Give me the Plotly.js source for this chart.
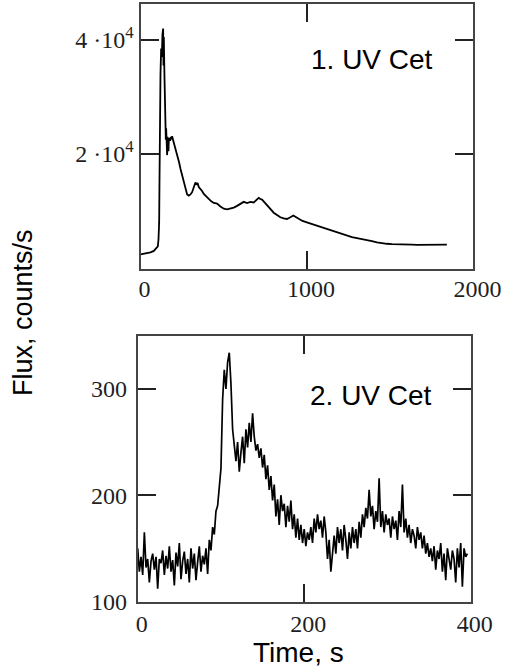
<!DOCTYPE html>
<html>
<head>
<meta charset="utf-8">
<script src="https://cdn.plot.ly/plotly-3.0.1.min.js"></script>
<style>html,body{margin:0;padding:0;background:#fff;}#chart{width:505px;height:672px;}</style>
</head>
<body>
<div id="chart"></div>
<script>
// Panel 1: UV Cet flare (time, s ; flux, counts/s)
const time1 = [0,20,40,60,80,90,100,104,108,112,114,116,118,120,124,128,132,136,138,140,142,144,146,148,150,152,154,156,158,160,162,164,166,168,170,174,178,182,186,190,196,202,210,218,224,232,240,250,260,270,280,290,300,310,320,330,336,343,350,360,370,380,395,410,425,440,460,480,500,520,540,560,580,600,620,640,660,680,695,710,720,730,745,760,780,800,820,840,860,880,900,918,935,950,970,990,1010,1030,1060,1090,1120,1150,1180,1210,1240,1270,1300,1330,1360,1390,1420,1450,1480,1510,1540,1570,1600,1630,1660,1690,1720,1750,1780,1810,1840,1866];
const flux1 = [2400,2500,2600,2750,3000,3300,3600,3800,5000,8000,15000,26000,33000,34000,38500,37000,41000,42000,35500,40500,37000,33500,30000,26000,25500,22500,24500,20000,23500,19800,23000,21000,22800,20500,22500,22800,22300,23000,22600,23100,22400,21800,21000,20000,19200,18500,17400,16200,14800,13600,12900,12700,12900,13300,14200,15000,14600,14900,14200,13900,13500,13000,12500,12100,11700,11400,11300,10800,10400,10300,10400,10600,10900,11200,11600,11400,11600,11500,11900,12300,12100,12000,11500,11000,10200,9700,9300,8900,8700,8600,8900,9200,8900,8600,8300,8100,7900,7800,7500,7200,6800,6500,6200,5900,5600,5400,5250,5100,4900,4700,4500,4350,4250,4200,4200,4150,4100,4100,4050,4050,4000,4000,4050,4050,4100];

// Panel 2: UV Cet flare (time, s ; flux, counts/s)
const time2 = [0,2,4,6,8,10,12,14,16,18,20,22,24,26,28,30,32,34,36,38,40,42,44,46,48,50,52,54,56,58,60,62,64,66,68,70,72,74,76,78,80,82,84,86,88,90,92,94,96,98,100,102,104,106,108,110,112,114,116,118,120,122,124,126,128,130,132,134,136,138,140,142,144,146,148,150,152,154,156,158,160,162,164,166,168,170,172,174,176,178,180,182,184,186,188,190,192,194,196,198,200,202,204,206,208,210,212,214,216,218,220,222,224,226,228,230,232,234,236,238,240,242,244,246,248,250,252,254,256,258,260,262,264,266,268,270,272,274,276,278,280,282,284,286,288,290,292,294,296,298,300,302,304,306,308,310,312,314,316,318,320,322,324,326,328,330,332,334,336,338,340,342,344,346,348,350,352,354,356,358,360,362,364,366,368,370,372,374,376,378,380,382,384,386,388,390,392,394,396];
const flux2 = [150,128,142,125,165,132,140,118,138,145,
130,142,112,140,136,148,125,143,131,152,
128,139,115,146,133,155,121,138,147,126,
140,118,150,131,145,120,137,152,128,143,
135,150,126,158,148,170,163,185,190,210,
225,290,318,300,325,334,305,262,245,232,
250,222,240,255,230,262,245,268,250,277,
255,242,248,235,244,226,238,215,228,205,
218,195,210,180,196,172,200,185,192,170,
190,175,195,168,182,160,178,158,172,155,
168,152,165,158,170,155,178,165,182,168,
176,160,180,165,140,158,128,150,162,145,
170,155,168,148,172,158,140,165,150,170,
155,168,150,175,160,182,170,188,178,205,
180,190,168,185,175,216,170,185,165,182,
172,178,160,180,168,176,158,185,170,210,
165,178,160,172,155,168,162,150,170,158,
165,150,162,145,155,142,150,138,152,130,
148,140,155,128,145,120,150,140,130,148,
140,118,150,132,155,114,150,142,145];

const yTickVals1 = [20000, 40000];
const yTickText1 = ['2 ·10<sup>4</sup>', '4 ·10<sup>4</sup>'];
const xTickVals1 = [0, 1000, 2000];
const xTickVals2 = [0, 200, 400];
const yTickVals2 = [100, 200, 300];

const tickFont = {family: 'Liberation Serif, Times New Roman, serif', size: 24, color: '#1f1f1f'};
const sansFont = {family: 'Liberation Sans, Arial, sans-serif', color: '#000'};

const axBase = {
  showline: true, mirror: 'ticks', linecolor: '#444', linewidth: 2,
  ticks: 'inside', ticklen: 18, tickwidth: 2, tickcolor: '#222',
  showgrid: false, zeroline: false, tickfont: tickFont, fixedrange: true
};

const traces = [
  {x: time1, y: flux1, xaxis: 'x', yaxis: 'y', type: 'scatter', mode: 'lines',
   line: {color: '#000', width: 1.8}, hoverinfo: 'skip', showlegend: false},
  {x: time2, y: flux2, xaxis: 'x2', yaxis: 'y2', type: 'scatter', mode: 'lines',
   line: {color: '#000', width: 1.7}, hoverinfo: 'skip', showlegend: false}
];

const layout = {
  width: 505, height: 672,
  margin: {l: 0, r: 0, t: 0, b: 0},
  paper_bgcolor: '#fff', plot_bgcolor: '#fff',
  xaxis: Object.assign({}, axBase, {domain: [0.27822, 0.93762], range: [0, 2000],
    tickmode: 'array', tickvals: xTickVals1, anchor: 'y', ticklabelstandoff: -3, ticklabelshift: 4}),
  yaxis: Object.assign({}, axBase, {domain: [0.59970, 0.99405], range: [-175, 46300],
    tickmode: 'array', tickvals: yTickVals1, ticktext: yTickText1, anchor: 'x', ticklabelstandoff: 0}),
  xaxis2: Object.assign({}, axBase, {domain: [0.27267, 0.93208], range: [0, 400],
    tickmode: 'array', tickvals: xTickVals2, anchor: 'y2', ticklabelstandoff: 0, ticklabelshift: 4}),
  yaxis2: Object.assign({}, axBase, {domain: [0.10491, 0.50045], range: [100, 350],
    tickmode: 'array', tickvals: yTickVals2, anchor: 'x2', ticklabelstandoff: 4}),
  annotations: [
    {text: '1. UV Cet', xref: 'paper', yref: 'paper', x: 0.7366, y: 0.9122,
     xanchor: 'center', yanchor: 'middle', showarrow: false, font: Object.assign({size: 28}, sansFont)},
    {text: '2. UV Cet', xref: 'paper', yref: 'paper', x: 0.7347, y: 0.4122,
     xanchor: 'center', yanchor: 'middle', showarrow: false, font: Object.assign({size: 28}, sansFont)},
    {text: 'Flux, counts/s', xref: 'paper', yref: 'paper', x: 0.0455, y: 0.5357, textangle: -90,
     xanchor: 'center', yanchor: 'middle', showarrow: false, font: Object.assign({size: 27}, sansFont)},
    {text: 'Time, s', xref: 'paper', yref: 'paper', x: 0.592, y: 0.0283,
     xanchor: 'center', yanchor: 'middle', showarrow: false, font: Object.assign({size: 28}, sansFont)}
  ]
};

Plotly.newPlot('chart', traces, layout, {displayModeBar: false, staticPlot: true});
</script>
</body>
</html>
